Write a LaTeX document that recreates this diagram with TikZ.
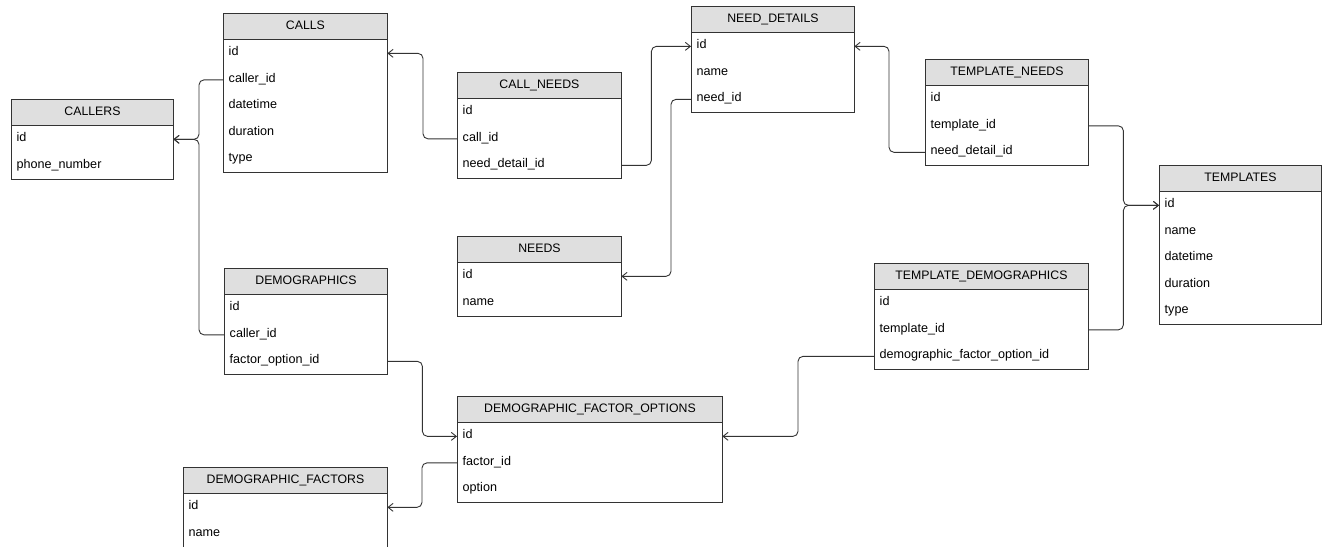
\documentclass[tikz,border=0pt]{standalone}
\usepackage{fontspec}
\setmainfont{Liberation Sans}
\usetikzlibrary{arrows.meta,calc}
\definecolor{ln}{HTML}{333333}
\definecolor{hd}{HTML}{DFDFDF}
\tikzset{
  hdr/.style={draw=ln, line width=0.9pt, fill=hd, inner sep=0pt, minimum height=26pt,
    anchor=north west, text height=9pt, text depth=3pt, font=\fontsize{12.3}{14}\selectfont},
  fld/.style={inner xsep=5.5pt, inner ysep=0pt, minimum height=26.5pt, anchor=north west,
    align=left, text height=8pt, text depth=3pt, font=\fontsize{12.6}{14}\selectfont},
  tab/.style={draw=ln, line width=0.9pt},
  conn/.style={draw=ln, line width=0.9pt, rounded corners=5pt,
    -{Straight Barb[length=5pt,width=8pt]}}
}
\newcommand{\erdtable}[6]{%
  \node[hdr, minimum width=#4pt] (#1) at (#2,#3) {#5};
  \foreach \r [count=\i] in {#6}{
    \node[fld, text width=#4pt-11pt] (#1-\i) at ($(#1.south west)+(0,{(\i-1)*26.5})$) {\r};
    \xdef\lastrow{\i}
  }
  \draw[tab] (#1.south west) rectangle (#1-\lastrow.south east);
}
\begin{document}
\begin{tikzpicture}[x=1pt,y=-1pt]
\useasboundingbox (0,0) rectangle (1322,546);
\erdtable{callers}{11}{99}{162}{CALLERS}{id, phone\_number}
\erdtable{calls}{223}{13}{164}{CALLS}{id, caller\_id, datetime, duration, type}
\erdtable{callneeds}{457}{72}{164}{CALL\_NEEDS}{id, call\_id, need\_detail\_id}
\erdtable{needdetails}{691}{6}{163}{NEED\_DETAILS}{id, name, need\_id}
\erdtable{tneeds}{925}{59}{163}{TEMPLATE\_NEEDS}{id, template\_id, need\_detail\_id}
\erdtable{templates}{1159}{165}{162}{TEMPLATES}{id, name, datetime, duration, type}
\erdtable{tdemo}{874}{263}{214}{TEMPLATE\_DEMOGRAPHICS}{id, template\_id, demographic\_factor\_option\_id}
\erdtable{needs}{457}{236}{164}{NEEDS}{id, name}
\erdtable{demo}{224}{268}{163}{DEMOGRAPHICS}{id, caller\_id, factor\_option\_id}
\erdtable{dfo}{457}{396}{265}{DEMOGRAPHIC\_FACTOR\_OPTIONS}{id, factor\_id, option}
\erdtable{df}{183}{467}{204}{DEMOGRAPHIC\_FACTORS}{id, name}

\draw[conn] (calls-2.west) -- ++(-24,0) |- (callers-1.east);
\draw[conn] (demo-2.west) -- ++(-25,0) |- (callers-1.east);
\draw[conn] (callneeds-2.west) -- ++(-34,0) |- (calls-1.east);
\draw[conn] (callneeds-3.east) -- ++(30,0) |- (needdetails-1.west);
\draw[conn] (needdetails-3.west) -- ++(-20,0) |- (needs-1.east);
\draw[conn] (tneeds-3.west) -- ++(-36,0) |- (needdetails-1.east);
\draw[conn] (tneeds-2.east) -- ++(35,0) |- (templates-1.west);
\draw[conn] (tdemo-2.east) -- ++(35,0) |- (templates-1.west);
\draw[conn] (demo-3.east) -- ++(35,0) |- (dfo-1.west);
\draw[conn] (dfo-2.west) -- ++(-35,0) |- (df-1.east);
\draw[conn] (tdemo-3.west) -- ++(-76,0) |- (dfo-1.east);
\end{tikzpicture}
\end{document}
